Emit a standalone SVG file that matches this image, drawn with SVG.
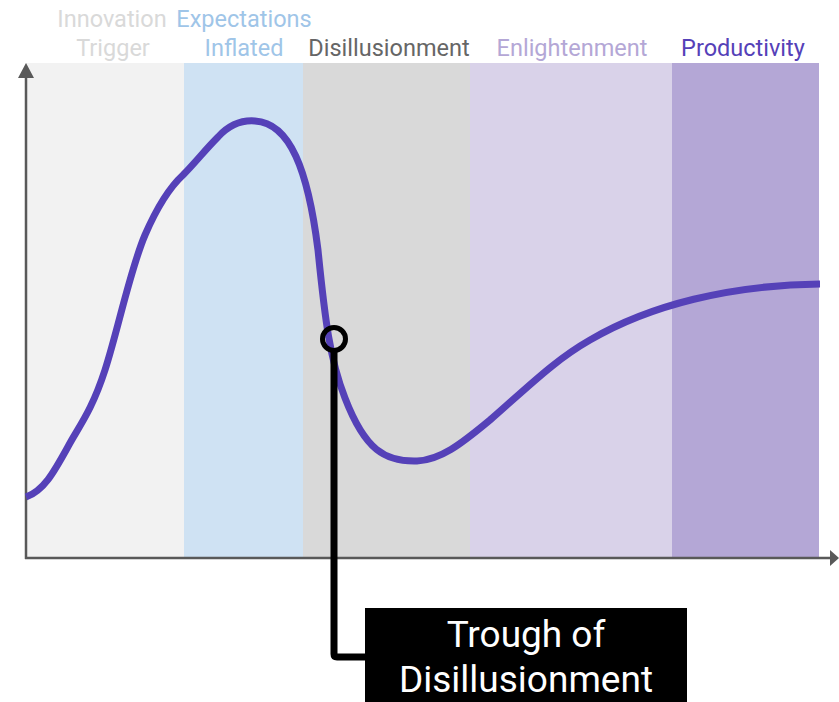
<svg xmlns="http://www.w3.org/2000/svg" width="839" height="702" viewBox="0 0 839 702">
<style>
.hdr{font-family:Roboto,"Liberation Sans",sans-serif;font-size:23.5px;text-anchor:middle}
.lbl{font-family:Roboto,"Liberation Sans",sans-serif;font-size:37px;text-anchor:middle;fill:#ffffff}
.axis{stroke:#595959;stroke-width:2.5;fill:none}
</style>
<rect width="839" height="702" fill="#ffffff"/>
<g id="bands">
<rect x="26" y="63" width="158" height="495" fill="#f2f2f2"/>
<rect x="184" y="63" width="119" height="495" fill="#cfe2f3"/>
<rect x="303" y="63" width="167" height="495" fill="#d9d9d9"/>
<rect x="470" y="63" width="202" height="495" fill="#d9d2e9"/>
<rect x="672" y="63" width="147" height="495" fill="#b4a7d6"/>
</g>
<g id="headers">
<text class="hdr" x="112" y="27" fill="#d9d9d9">Innovation</text>
<text class="hdr" x="113" y="56" fill="#d9d9d9">Trigger</text>
<text class="hdr" x="244" y="27" fill="#9fc5e8">Expectations</text>
<text class="hdr" x="244" y="56" fill="#9fc5e8">Inflated</text>
<text class="hdr" x="389" y="56" fill="#666666">Disillusionment</text>
<text class="hdr" x="572" y="56" fill="#b4a7d6">Enlightenment</text>
<text class="hdr" x="743" y="56" fill="#5541b8">Productivity</text>
</g>
<g id="axes">
<path class="axis" d="M26,559 L26,77"/>
<path d="M26,63 L34,78 L18,78 z" fill="#595959"/>
<path class="axis" d="M25,558 L831,558"/>
<path d="M839,558 L830,566 L830,550 z" fill="#595959"/>
</g>
<g id="curve">
<path d="M26,497 C45,490 55,470 70,443 C80,425 92,410 105,370 C118,330 130,270 145,235 C158,205 170,187 183,175 C195,163 205,150 218,137 C230,124 242,120 255,121 C290,123 308,170 318,250 C325,320 330,360 345,398 C365,450 385,462 417,461 C440,460 460,445 490,420 C530,385 555,360 590,340 C650,305 730,285 820,284" fill="none" stroke="#5541b8" stroke-width="7"/>
</g>
<g id="connectors">
<path d="M334,350 L334,654 Q334,657 337,657 L366,657" fill="none" stroke="#000000" stroke-width="7"/>
</g>
<g id="marker-point">
<circle cx="334" cy="339" r="11.5" fill="none" stroke="#000000" stroke-width="5"/>
</g>
<g id="label-trough">
<rect x="365" y="608" width="322" height="94" fill="#000000"/>
<text class="lbl" x="526" y="647">Trough of</text>
<text class="lbl" x="526" y="692">Disillusionment</text>
</g>
</svg>
